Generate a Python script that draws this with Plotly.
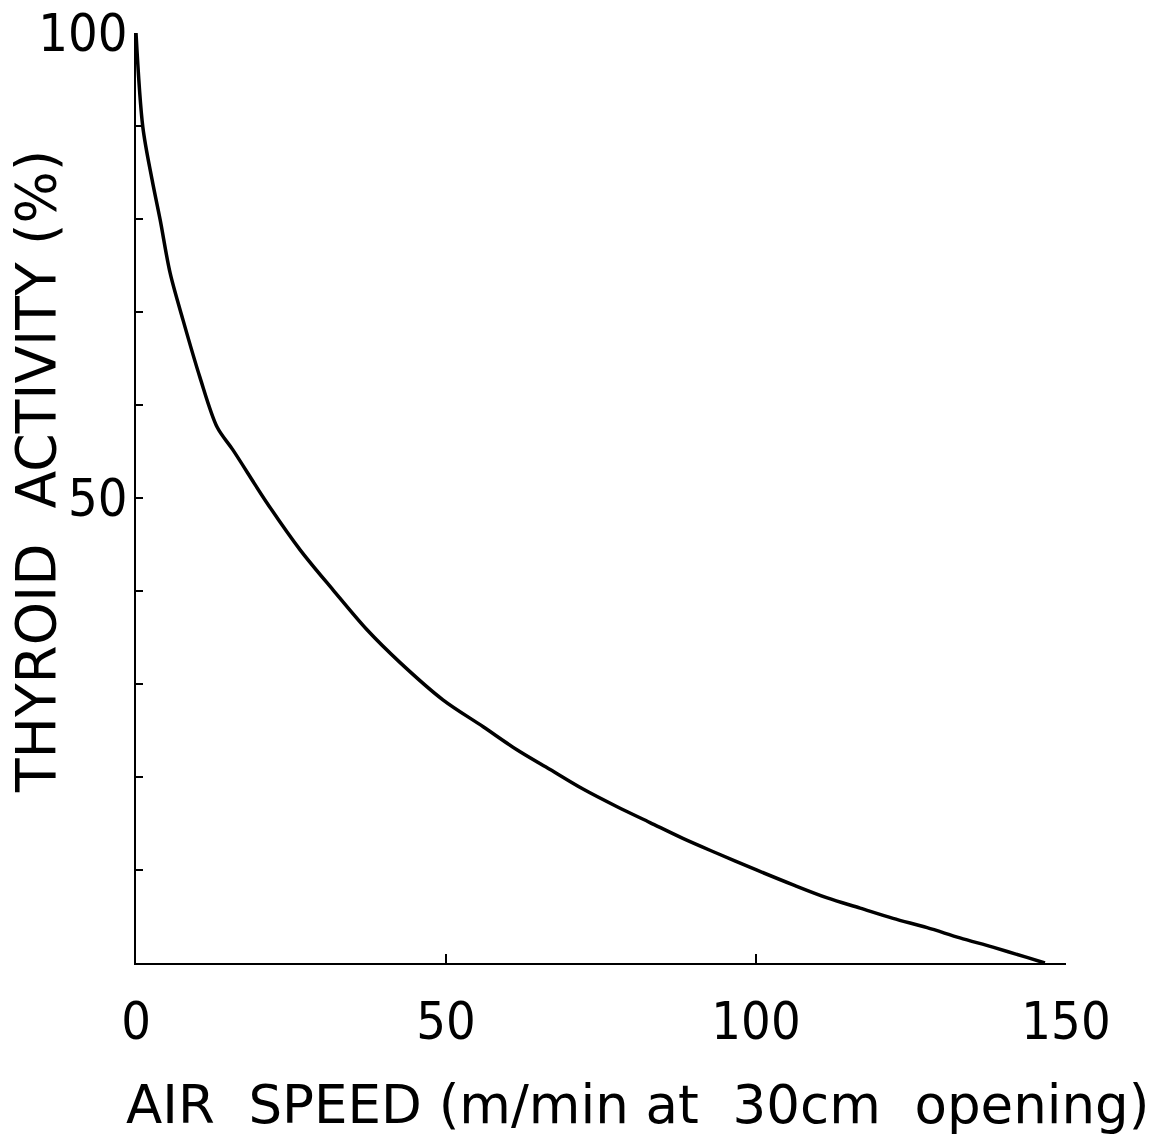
import plotly.graph_objects as go

# Data
air_speed = [0, 1.1, 2.6, 3.9, 5.5, 7.6, 10.3, 13.1, 15.6, 21.1, 26.5, 31.8, 37.3, 42.6,
             49.5, 56.0, 61.5, 66.8, 72.1, 77.6, 82.9, 88.2, 93.7, 99.0, 106.0, 111.5,
             116.8, 122.1, 127.6, 132.9, 138.2, 143.7, 146.6]
thyroid_activity = [100, 89.9, 84.2, 79.9, 74.2, 69.1, 63.0, 57.6, 55.2, 49.5, 44.4, 40.1,
                    35.8, 32.3, 28.3, 25.4, 22.9, 20.8, 18.7, 16.8, 15.1, 13.4, 11.8, 10.3,
                    8.4, 7.0, 5.9, 4.8, 3.8, 2.7, 1.7, 0.6, 0.0]

x_tick_vals = [0, 50, 100, 150]
x_tick_text = ["0", "50", "100", "150"]
y_tick_vals = [10, 20, 30, 40, 50, 60, 70, 80, 90, 100]
y_tick_text = ["", "", "", "", "50", "", "", "", "", "100"]

x_title = "AIR\u00a0\u00a0SPEED\u00a0(m/min\u00a0at\u00a0\u00a030cm\u00a0\u00a0opening)"
y_title = "THYROID\u00a0\u00a0ACTIVITY\u00a0(%)"

TICK_FONT = "DejaVu Sans Condensed, DejaVu Sans, sans-serif"
TITLE_FONT = "DejaVu Sans, sans-serif"

fig = go.Figure()
fig.add_trace(go.Scatter(x=air_speed, y=thyroid_activity, mode="lines",
                         line=dict(color="black", width=3.5, shape="spline", smoothing=0.9),
                         showlegend=False, hoverinfo="skip"))

fig.update_layout(
    width=1166, height=1143,
    margin=dict(l=136, r=100, t=33, b=180),
    paper_bgcolor="white", plot_bgcolor="white",
    font=dict(family=TICK_FONT, color="black"),
    xaxis=dict(range=[0, 150], tickvals=x_tick_vals, ticktext=x_tick_text,
               showline=True, linecolor="black", linewidth=2, mirror=False,
               ticks="inside", ticklen=9, tickwidth=2, tickcolor="black",
               showgrid=False, zeroline=False, automargin=False,
               tickfont=dict(size=52, family=TICK_FONT), ticklabelstandoff=12),
    yaxis=dict(range=[0, 100], tickvals=y_tick_vals, ticktext=y_tick_text,
               showline=True, linecolor="black", linewidth=2, mirror=False,
               ticks="inside", ticklen=7, tickwidth=2, tickcolor="black",
               showgrid=False, zeroline=False, automargin=False,
               tickfont=dict(size=52, family=TICK_FONT), ticklabelstandoff=-4),
    annotations=[
        dict(text=x_title, xref="paper", yref="paper", x=(637 - 136) / 930, y=-(1104 - 963) / 930,
             showarrow=False, xanchor="center", yanchor="middle",
             font=dict(size=53, family=TITLE_FONT, color="black")),
        dict(text=y_title, xref="paper", yref="paper", x=-(136 - 36) / 930, y=(963 - 472) / 930,
             showarrow=False, xanchor="center", yanchor="middle", textangle=-90,
             font=dict(size=55, family=TITLE_FONT, color="black")),
    ],
)

fig.write_html("out.html")
